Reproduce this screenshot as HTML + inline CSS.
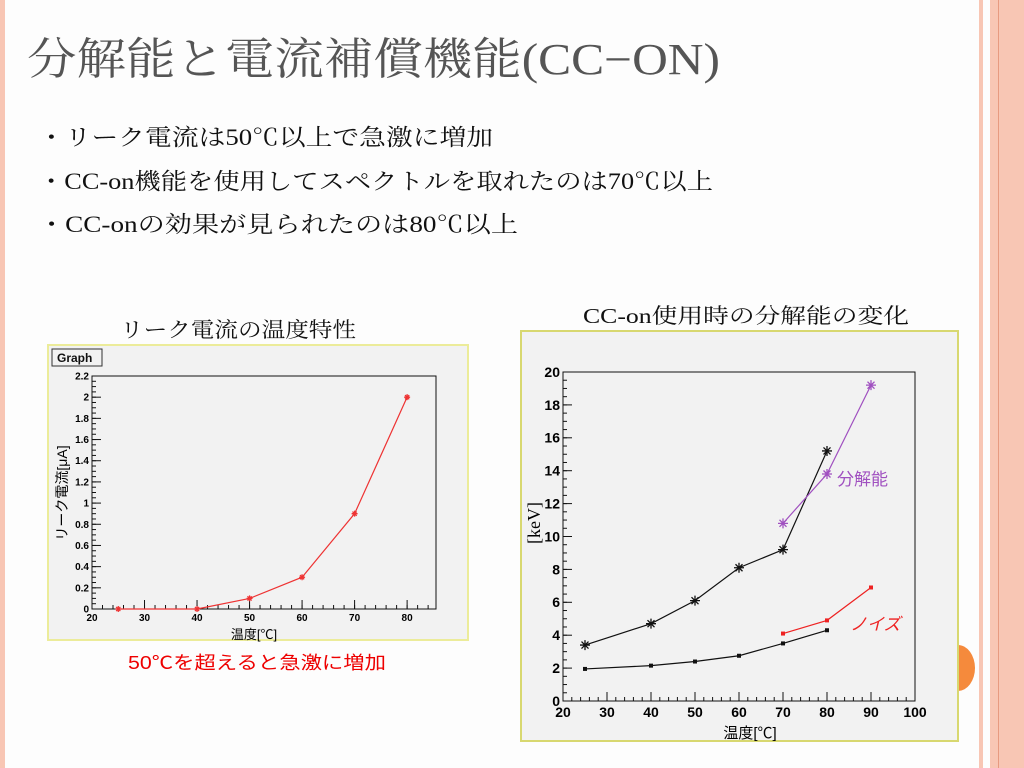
<!DOCTYPE html>
<html><head><meta charset="utf-8"><style>
html,body{margin:0;padding:0;background:#fdfdfd;}
svg{display:block;}
text{font-family:"Liberation Serif","Noto Serif CJK SC","Noto Sans CJK JP",serif;}
.ax text{font-family:"Liberation Sans",sans-serif;font-weight:bold;}
</style></head><body>
<svg id="s" width="1024" height="768" xmlns="http://www.w3.org/2000/svg">
<rect x="0" y="0" width="1024" height="768" fill="#fdfdfd"/>
<rect x="0" y="0" width="5" height="768" fill="#f8c6b4"/>
<path d="M958,645 A17,23 0 0 1 958,691 Z" fill="#f58a3c"/>
<rect x="979" y="0" width="4" height="768" fill="#f8c6b4"/>
<rect x="990" y="0" width="34" height="768" fill="#f8c6b4"/>
<rect x="998" y="0" width="1" height="768" fill="#e79a80"/>
<text x="27" y="74" font-size="44" fill="#555" textLength="693" lengthAdjust="spacingAndGlyphs">分解能と電流補償機能(CC−ON)</text>
<text x="38" y="145" font-size="23" fill="#111" textLength="455" lengthAdjust="spacingAndGlyphs">・リーク電流は50℃以上で急激に増加</text>
<text x="38" y="189" font-size="23" fill="#111" textLength="675" lengthAdjust="spacingAndGlyphs">・CC-on機能を使用してスペクトルを取れたのは70℃以上</text>
<text x="38" y="232" font-size="23" fill="#111" textLength="480" lengthAdjust="spacingAndGlyphs">・CC-onの効果が見られたのは80℃以上</text>
<text x="120" y="337" font-size="21" fill="#111" textLength="236" lengthAdjust="spacingAndGlyphs">リーク電流の温度特性</text>
<text x="583" y="323" font-size="21" fill="#111" textLength="326" lengthAdjust="spacingAndGlyphs">CC-on使用時の分解能の変化</text>
<rect x="48" y="345" width="420" height="295" fill="#f2f2f2" stroke="#ecec9a" stroke-width="2"/>
<rect x="52" y="349" width="50" height="17" fill="#f2f2f2" stroke="#333"/>
<text x="57" y="362" style="font-family:'Liberation Sans',sans-serif;font-weight:bold;font-size:12px" fill="#111">Graph</text>
<rect x="521" y="331" width="437" height="410" fill="#f2f2f2" stroke="#d8d870" stroke-width="2"/>
<text x="128" y="669" font-size="18" fill="#e00" style="font-family:'Liberation Sans','Noto Sans CJK JP',sans-serif" textLength="258" lengthAdjust="spacingAndGlyphs">50℃を超えると急激に増加</text>
<g id="L" class="ax"></g>
<g id="R" class="ax"></g>
</svg>
<script>
const NS="http://www.w3.org/2000/svg";
const leakX=[25,40,50,60,70,80];
const leakY=[0,0,0.1,0.3,0.9,2.0];
const leakXTicks=[20,30,40,50,60,70,80];
const leakYTicks=[0,0.2,0.4,0.6,0.8,1,1.2,1.4,1.6,1.8,2,2.2];
const resX=[25,40,50,60,70,80];
const resY=[3.4,4.7,6.1,8.1,9.2,15.2];
const resOnX=[70,80,90];
const resOnY=[10.8,13.8,19.2];
const noiseOnX=[70,80,90];
const noiseOnY=[4.1,4.9,6.9];
const noiseX=[25,40,50,60,70,80];
const noiseY=[1.95,2.15,2.4,2.75,3.5,4.3];
const resXTicks=[20,30,40,50,60,70,80,90,100];
const resYTicks=[0,2,4,6,8,10,12,14,16,18,20];
function mk(p,t,a){const e=document.createElementNS(NS,t);for(const k in a)e.setAttribute(k,a[k]);p.appendChild(e);return e;}
function axes(g,box,xr,yr,xt,yt,name,fs,xminor,yminor){
 const sx=v=>box.l+(v-xr[0])/(xr[1]-xr[0])*(box.r-box.l);
 const sy=v=>box.b-(v-yr[0])/(yr[1]-yr[0])*(box.b-box.t);
 const r=mk(g,'rect',{x:box.l,y:box.t,width:box.r-box.l,height:box.b-box.t,fill:'none',stroke:'#111'});
 
 
 for(let v=xr[0];v<=xr[1]+1e-9;v+=xminor){mk(g,'line',{x1:sx(v),x2:sx(v),y1:box.b,y2:box.b-4,stroke:'#111'});}
 for(let v=yr[0];v<=yr[1]+1e-9;v+=yminor){mk(g,'line',{x1:box.l,x2:box.l+4,y1:sy(v),y2:sy(v),stroke:'#111'});}
 xt.forEach(v=>{mk(g,'line',{x1:sx(v),x2:sx(v),y1:box.b,y2:box.b-9,stroke:'#111'});
  const t=mk(g,'text',{x:sx(v),y:box.b+fs+2,'text-anchor':'middle',style:'font-size:'+fs+'px'});t.textContent=v;
  
  });
 yt.forEach(v=>{mk(g,'line',{x1:box.l,x2:box.l+9,y1:sy(v),y2:sy(v),stroke:'#111'});
  const t=mk(g,'text',{x:box.l-3,y:sy(v)+fs*0.35,'text-anchor':'end',style:'font-size:'+fs+'px'});t.textContent=v;
  
  });
 return [sx,sy];
}
function series(g,X,Y,sx,sy,col,mark,name,sz){
 const pts=X.map((x,i)=>sx(x)+','+sy(Y[i])).join(' ');
 const pl=mk(g,'polyline',{points:pts,fill:'none',stroke:col,'stroke-width':1.2});
 
 
 X.forEach((x,i)=>{const cx=sx(x),cy=sy(Y[i]);
  if(mark==='star'){const s=sz;
   const p=mk(g,'path',{d:`M${cx-s},${cy}H${cx+s}M${cx},${cy-s}V${cy+s}M${cx-s*.7},${cy-s*.7}L${cx+s*.7},${cy+s*.7}M${cx-s*.7},${cy+s*.7}L${cx+s*.7},${cy-s*.7}`,stroke:col,'stroke-width':1.3});
   
   }
  else{const p=mk(g,'rect',{x:cx-2,y:cy-2,width:4,height:4,fill:col});
   
   }
 });
}
const JP="font-family:'Liberation Sans','Noto Sans CJK JP',sans-serif;font-weight:normal;";
const L=document.getElementById('L');
let [lx,ly]=axes(L,{l:92,r:436,t:376,b:609},[20,85.5],[0,2.2],leakXTicks,leakYTicks,'leak',10,2,0.05);
series(L,leakX,leakY,lx,ly,'#e33','star','leak-current',3);
let t=mk(L,'text',{x:254,y:639,'text-anchor':'middle',style:JP+'font-size:13px'});t.textContent='温度[℃]';


t=mk(L,'text',{x:0,y:0,transform:'translate(67,493) rotate(-90)','text-anchor':'middle',style:JP+'font-size:14px'});t.textContent='リーク電流[μA]';


const R=document.getElementById('R');
let [rx,ry]=axes(R,{l:563,r:915,t:372,b:701},[20,100],[0,20],resXTicks,resYTicks,'res',14,2,0.5);
series(R,noiseX,noiseY,rx,ry,'#111','sq','noise-off');
series(R,noiseOnX,noiseOnY,rx,ry,'#e22','sq','noise-on');
series(R,resX,resY,rx,ry,'#111','star','resolution-off',5);
series(R,resOnX,resOnY,rx,ry,'#a050c0','star','resolution-on',5);
t=mk(R,'text',{x:750,y:738,'text-anchor':'middle',style:JP+'font-size:15px'});t.textContent='温度[℃]';


t=mk(R,'text',{x:0,y:0,transform:'translate(540,523) rotate(-90)','text-anchor':'middle',style:"font-family:'Liberation Serif',serif;font-weight:normal;font-size:18px"});t.textContent='[keV]';


t=mk(R,'text',{x:837,y:485,fill:'#a050c0',style:JP+'font-size:17px'});t.textContent='分解能';


t=mk(R,'text',{x:850,y:630,fill:'#e22',style:JP+'font-size:17px;font-style:italic'});t.textContent='ノイズ';


</script>
</body></html>
